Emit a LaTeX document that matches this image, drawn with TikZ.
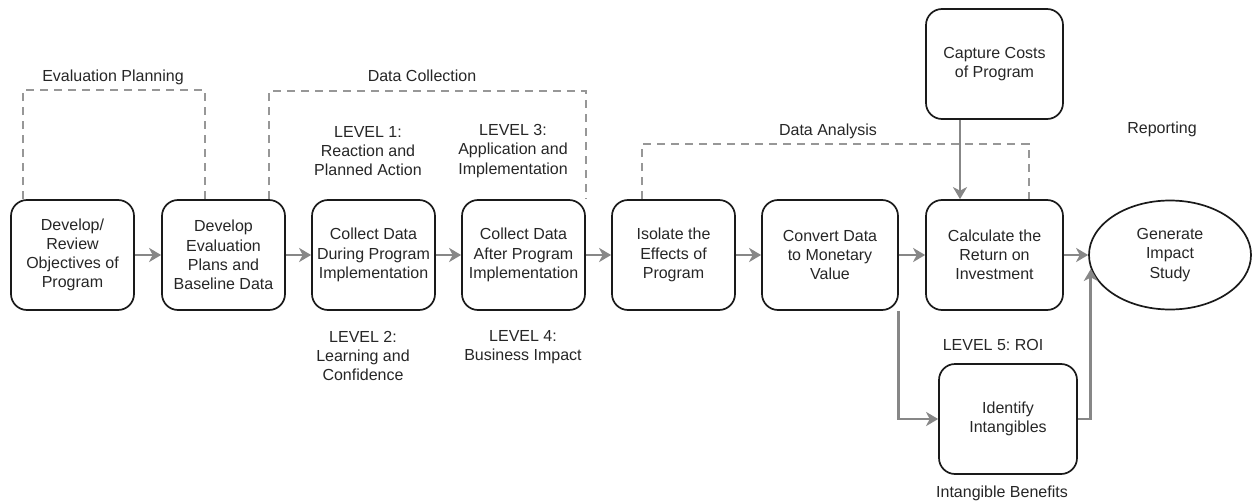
\documentclass[tikz,border=0pt]{standalone}
\usepackage{fontspec}
\setmainfont{Liberation Sans}
\usetikzlibrary{arrows.meta,shapes.geometric}
\frenchspacing

\definecolor{boxline}{HTML}{1A1A1A}
\definecolor{flowgray}{HTML}{878787}
\definecolor{phasegray}{HTML}{979797}
\definecolor{textgray}{HTML}{262626}

\tikzset{
    stage/.style={draw=boxline, line width=1.7pt, rounded corners=16pt,
        minimum height=110pt, align=center, text=textgray,
        font=\fontsize{16}{19.2}\selectfont},
    flow/.style={draw=flowgray, line width=2.8pt,
        -{Stealth[length=12pt,width=14pt,inset=3.5pt]}},
    phase/.style={draw=phasegray, line width=2.2pt, dash pattern=on 8pt off 6pt},
    caption/.style={align=center, text=textgray, inner sep=0pt,
        font=\fontsize{16}{19.2}\selectfont}
}

\begin{document}
\begin{tikzpicture}[x=1pt, y=-1pt]
    \useasboundingbox (0,0) rectangle (1252,503);

    % process boxes
    \node[stage, minimum width=123pt] (objectives) at (72.5,255) {Develop/\\Review\\Objectives of\\Program};
    \node[stage, minimum width=123pt] (plans) at (223.5,255) {Develop\\Evaluation\\Plans and\\Baseline Data};
    \node[stage, minimum width=123pt] (during) at (373.5,255) {Collect Data\\During Program\\Implementation};
    \node[stage, minimum width=123pt] (after) at (523.5,255) {Collect Data\\After Program\\Implementation};
    \node[stage, minimum width=123pt] (isolate) at (673.5,255) {Isolate the\\Effects of\\Program};
    \node[stage, minimum width=136pt] (convert) at (830,255) {Convert Data\\to Monetary\\Value};
    \node[stage, minimum width=137pt] (roi) at (994.5,255) {Calculate the\\Return on\\Investment};
    \node[stage, minimum width=137pt] (costs) at (994.5,64) {Capture Costs\\of Program};
    \node[stage, minimum width=138pt] (intangibles) at (1008,419) {Identify\\Intangibles};
    \node[stage, ellipse, rounded corners=0pt, minimum width=162pt,
        minimum height=109pt, inner sep=0pt] (impact) at (1170,255) {Generate\\Impact\\Study};

    % connectors
    \draw[flow] (objectives) -- (plans);
    \draw[flow] (plans) -- (during);
    \draw[flow] (during) -- (after);
    \draw[flow] (after) -- (isolate);
    \draw[flow] (isolate) -- (convert);
    \draw[flow] (convert) -- (roi);
    \draw[flow] (roi) -- (impact);
    \draw[flow] ([xshift=-34.5pt]costs.south) -- ([xshift=-34.5pt]roi.north);
    \draw[flow] (convert.south east) |- (intangibles.west);
    \draw[flow] (intangibles.east) -| (impact.190);

    % phase brackets
    \draw[phase] ([xshift=13pt]objectives.north west) -- ++(0,-109) -| ([xshift=44pt]plans.north west);
    \draw[phase] ([xshift=108pt]plans.north west) -- ++(0,-108) -| (after.north east);
    \draw[phase] ([xshift=31pt]isolate.north west) -- ++(0,-55) -| ([xshift=-35pt]roi.north east);

    % labels
    \node[caption] (planning) at (113,77) {Evaluation Planning};
    \node[caption] (collection) at (422,76) {Data Collection};
    \node[caption] (analysis) at (828,131) {Data Analysis};
    \node[caption] (reporting) at (1162,129) {Reporting};
    \node[caption] (level1) at (368,151) {LEVEL 1:\\Reaction and\\Planned Action};
    \node[caption] (level3) at (513,151) {LEVEL 3:\\Application and\\Implementation};
    \node[caption] (level2) at (363,356) {LEVEL 2:\\Learning and\\Confidence};
    \node[caption] (level4) at (523,347) {LEVEL 4:\\Business Impact};
    \node[caption] (level5) at (993,345) {LEVEL 5: ROI};
    \node[caption] (benefits) at (1002,493) {Intangible Benefits};
\end{tikzpicture}
\end{document}
